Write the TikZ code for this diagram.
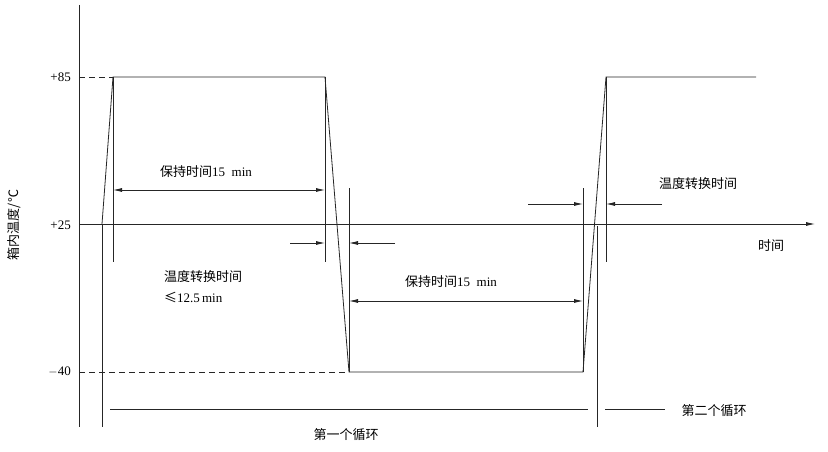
\documentclass[tikz,border=0pt]{standalone}
\usepackage{fontspec}
\setmainfont{Liberation Serif}
\newfontfamily\cjk{Noto Sans CJK SC}
\usetikzlibrary{arrows.meta}
\begin{document}
\begin{tikzpicture}[x=1pt,y=-1pt,
  ln/.style={line width=0.8pt,black!85},
  ar/.style={ln,-{Latex[length=9pt,width=4pt]}},
  dar/.style={ln,{Latex[length=9pt,width=4pt]}-{Latex[length=9pt,width=4pt]}},
  ds/.style={ln,dash pattern=on 6pt off 4pt},
  lab/.style={font=\fontsize{13}{15}\selectfont,inner sep=0pt},
  zh/.style={font=\fontsize{13}{15}\selectfont\cjk,inner sep=0pt}]
\useasboundingbox (0,0) rectangle (828,452);
% axes
\coordinate (yt) at (79,5); \coordinate (yb) at (79,427);
\draw[ln] (yt) -- (yb);
\coordinate (xl) at (79,224); \coordinate (xr) at (815,224);
\draw[ar] (xl) -- (xr);
% curve
\coordinate (a0) at (102,224); \coordinate (a1) at (113,77); \coordinate (a2) at (325,77);
\coordinate (a3) at (349,372); \coordinate (a4) at (583,372); \coordinate (a5) at (606,77);
\coordinate (a6) at (756,77);
\draw[ln] (a0) -- (a1) -- (a2) -- (a3) -- (a4) -- (a5) -- (a6);
\coordinate (d85) at (79,77); \coordinate (d40) at (79,372);
\draw[ds] (d85) -- (a1);
\draw[ds] (d40) -- (a3);
% vertical markers
\coordinate (v0b) at (102,427); \draw[ln] (a0) -- (v0b);
\coordinate (v1b) at (113,262); \draw[ln] (a1) -- (v1b);
\coordinate (v2b) at (325,262); \draw[ln] (a2) -- (v2b);
\coordinate (v3t) at (349,188); \draw[ln] (v3t) -- (a3);
\coordinate (v4t) at (583,188); \draw[ln] (v4t) -- (a4);
\coordinate (v5b) at (606,262); \draw[ln] (a5) -- (v5b);
\coordinate (v6t) at (597,226); \coordinate (v6b) at (597,427); \draw[ln] (v6t) -- (v6b);
% hold arrows
\coordinate (h1l) at (113,190); \coordinate (h1r) at (325,190); \draw[dar] (h1l) -- (h1r);
\coordinate (h2l) at (349,301); \coordinate (h2r) at (583,301); \draw[dar] (h2l) -- (h2r);
% transition arrows
\coordinate (t1a) at (290,243); \coordinate (t1b) at (325,243); \draw[ar] (t1a) -- (t1b);
\coordinate (t2a) at (395,243); \coordinate (t2b) at (349,243); \draw[ar] (t2a) -- (t2b);
\coordinate (t3a) at (528,204); \coordinate (t3b) at (583,204); \draw[ar] (t3a) -- (t3b);
\coordinate (t4a) at (662,204); \coordinate (t4b) at (606,204); \draw[ar] (t4a) -- (t4b);
% cycle lines
\coordinate (c1l) at (110,409); \coordinate (c1r) at (588,409); \draw[ln] (c1l) -- (c1r);
\coordinate (c2l) at (605,409); \coordinate (c2r) at (665,409); \draw[ln] (c2l) -- (c2r);
% labels
\node[lab,anchor=east] (l85) at (71,77) {+85};
\node[lab,anchor=east] (l25) at (71,225) {+25};
\node[lab,anchor=east] (l40) at (71,372) {$-$40};
\node[zh,rotate=90] (ylab) at (14,225) {箱内温度/℃};
\node[zh,anchor=west] (xlab) at (758,246) {时间};
\node[zh,anchor=west] (hold1) at (160,172) {保持时间{\rmfamily 15\ \ min}};
\node[zh,anchor=west] (hold2) at (405,282) {保持时间{\rmfamily 15\ \ min}};
\node[zh,anchor=west] (tr1) at (164,277) {温度转换时间};
\node[lab,anchor=west] (tr1b) at (164,298) {{\cjk ≤}12.5\,min};
\node[zh,anchor=west] (tr2) at (659,184) {温度转换时间};
\node[zh] (cyc1) at (346,435) {第一个循环};
\node[zh] (cyc2) at (714,411) {第二个循环};
\end{tikzpicture}
\end{document}
